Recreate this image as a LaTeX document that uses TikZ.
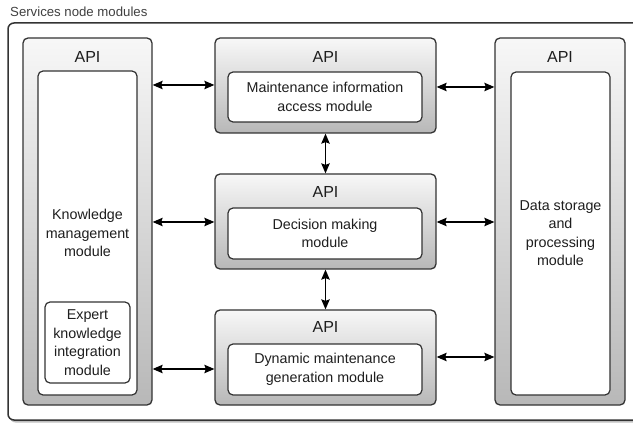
\documentclass[tikz,border=0pt]{standalone}
\usepackage{fontspec}
\setmainfont{Liberation Sans}
\usetikzlibrary{arrows.meta,shadows}
\definecolor{edge}{HTML}{333333}
\definecolor{txt}{HTML}{1E1E1E}
\tikzset{
  module/.style={draw=edge, line width=1.3pt, rounded corners=5pt,
    top color=white!97!black, bottom color=black!28, shading angle=0},
  inner/.style={draw=edge, line width=1.2pt, rounded corners=5pt, fill=white,
    align=center, text=txt, font=\fontsize{14.3}{18.5}\selectfont, inner sep=0pt},
  apilabel/.style={text=txt, font=\fontsize{16}{18}\selectfont, inner sep=0pt},
  arr/.style={{Stealth[length=10pt,width=8.5pt,inset=1.5pt]}-{Stealth[length=10pt,width=8.5pt,inset=1.5pt]}, line width=1.2pt, black},
}
\begin{document}
\begin{tikzpicture}[x=1pt,y=-1pt]
\useasboundingbox (0,0) rectangle (633,425);
\begin{scope}
\clip (0,0) rectangle (633,425);
% outer frame
\node[draw=edge, line width=1.5pt, rounded corners=6pt, fill=white,
  minimum width=640pt, minimum height=397pt, inner sep=0pt,
  drop shadow={shadow xshift=1.5pt, shadow yshift=-2.5pt, opacity=0.5}]
  (outer) at (328,221.5) {};
\end{scope}
\node[anchor=west, text=black!75, font=\fontsize{13.2}{16}\selectfont, inner sep=0pt]
  (title) at (10,12) {Services node modules};

% left module
\node[module, minimum width=129pt, minimum height=367pt, inner sep=0pt] (L) at (87.5,221.5) {};
\node[apilabel] (Lapi) at (87.5,57) {API};
\node[inner, minimum width=99pt, minimum height=324pt] (Li) at (87.5,233) {};
\node[text=txt, align=center, font=\fontsize{14.3}{18.5}\selectfont] (Lt) at (87.5,233) {Knowledge\\management\\module};
\node[inner, minimum width=85pt, minimum height=81pt] (Ex) at (87.5,342.5) {Expert\\knowledge\\integration\\module};

% middle modules
\node[module, minimum width=221pt, minimum height=95pt, inner sep=0pt] (M1) at (325.5,85.5) {};
\node[apilabel] (M1api) at (325.5,57) {API};
\node[inner, minimum width=194pt, minimum height=50pt] (M1i) at (325,97) {Maintenance information\\access module};

\node[module, minimum width=221pt, minimum height=95pt, inner sep=0pt] (M2) at (325.5,221.5) {};
\node[apilabel] (M2api) at (325.5,192) {API};
\node[inner, minimum width=194pt, minimum height=51pt] (M2i) at (325,233.5) {Decision making\\module};

\node[module, minimum width=221pt, minimum height=95pt, inner sep=0pt] (M3) at (325.5,357.5) {};
\node[apilabel] (M3api) at (325.5,327) {API};
\node[inner, minimum width=194pt, minimum height=51pt] (M3i) at (325,369.5) {Dynamic maintenance\\generation module};

% right module
\node[module, minimum width=130pt, minimum height=367pt, inner sep=0pt] (R) at (560,221.5) {};
\node[apilabel] (Rapi) at (560,57) {API};
\node[inner, minimum width=99pt, minimum height=323pt] (Ri) at (560.5,233.5) {};
\node[text=txt, align=center, font=\fontsize{14.3}{18.5}\selectfont] (Rt) at (560.5,233) {Data storage\\and\\processing\\module};

% connectors
\draw[arr] (L.east |- 0,85) -- (M1.west |- 0,85);
\draw[arr] (L.east |- 0,222) -- (M2.west |- 0,222);
\draw[arr] (L.east |- 0,369) -- (M3.west |- 0,369);
\draw[arr] (M1.east |- 0,87) -- (R.west |- 0,87);
\draw[arr] (M2.east |- 0,222) -- (R.west |- 0,222);
\draw[arr] (M3.east |- 0,357) -- (R.west |- 0,357);
\draw[arr] (M1.south) -- (M2.north);
\draw[arr] (M2.south) -- (M3.north);
\end{tikzpicture}
\end{document}
